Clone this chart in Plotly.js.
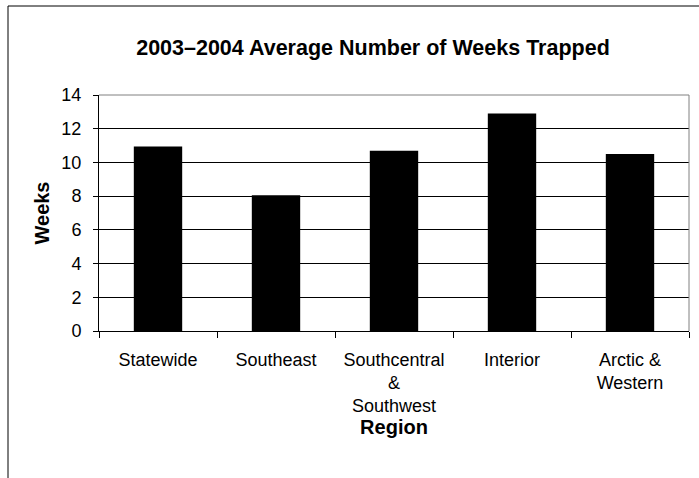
<!DOCTYPE html>
<html>
<head>
<meta charset="utf-8">
<script src="https://cdn.plot.ly/plotly-3.0.1.min.js"></script>
<style>html,body{margin:0;padding:0;background:#fff;}#chart{width:699px;height:478px;}</style>
</head>
<body>
<div id="chart"></div>
<script>
const categories = ["Statewide", "Southeast", "Southcentral<br>&<br>Southwest", "Interior", "Arctic &<br>Western"];
const weeks = [10.95, 8.05, 10.7, 12.9, 10.5];
const yTicks = [0, 2, 4, 6, 8, 10, 12, 14];

const FONT = "Liberation Sans, Arial, sans-serif";

const trace = {
  type: "bar",
  x: categories,
  y: weeks,
  width: 0.41,
  marker: {color: "#000000", line: {width: 0}},
  hoverinfo: "skip"
};

const layout = {
  width: 699,
  height: 478,
  margin: {l: 99, r: 10, t: 95, b: 147, pad: 0},
  paper_bgcolor: "#ffffff",
  plot_bgcolor: "#ffffff",
  showlegend: false,
  font: {family: FONT, color: "#000000", size: 18},
  title: {
    text: "<b>2003–2004 Average Number of Weeks Trapped</b>",
    font: {family: FONT, size: 21.5, color: "#000000"},
    x: 373 / 699, xanchor: "center",
    y: 1 - 47 / 478, yanchor: "middle"
  },
  xaxis: {
    type: "category",
    showgrid: false,
    showline: true, linecolor: "#000000", linewidth: 1,
    ticks: "outside", tickson: "boundaries", ticklen: 6, tickcolor: "#000000", tickwidth: 1,
    ticklabelstandoff: 12,
    tickfont: {family: FONT, size: 18, color: "#000000"},
    title: {text: "<b>Region</b>", font: {family: FONT, size: 20, color: "#000000"}, standoff: 4},
    fixedrange: true
  },
  yaxis: {
    range: [0, 14],
    tickvals: yTicks,
    ticktext: yTicks.map(String),
    showgrid: true, gridcolor: "#000000", gridwidth: 1,
    zeroline: false,
    showline: true, linecolor: "#000000", linewidth: 1,
    ticks: "outside", ticklen: 5, tickcolor: "#000000", tickwidth: 1,
    ticklabelstandoff: 8,
    tickfont: {family: FONT, size: 18, color: "#000000"},
    title: {text: "<b>Weeks</b>", font: {family: FONT, size: 20, color: "#000000"}, standoff: 6},
    fixedrange: true
  },
  shapes: [
    {type: "line", xref: "paper", yref: "paper", x0: 0, x1: 1, y0: 1, y1: 1, line: {color: "#808080", width: 1}, layer: "above"},
    {type: "line", xref: "paper", yref: "paper", x0: 1, x1: 1, y0: 0, y1: 1, line: {color: "#808080", width: 1}, layer: "above"},
    {type: "rect", xref: "paper", yref: "paper", x0: (8 - 99) / 590, x1: 1.3, y0: -1, y1: 1 + (95 - 6) / 236, line: {color: "#000000", width: 1}, fillcolor: "rgba(0,0,0,0)", layer: "below"}
  ]
};

Plotly.newPlot("chart", [trace], layout, {staticPlot: true, displayModeBar: false});
</script>
</body>
</html>
